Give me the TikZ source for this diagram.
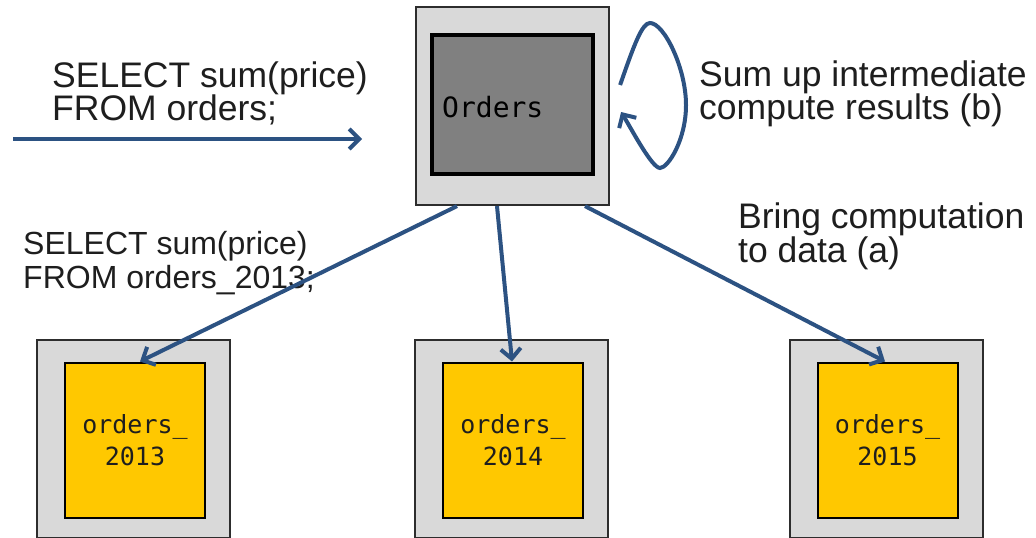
\documentclass[tikz,border=0pt]{standalone}
\usepackage{fontspec}
\setmainfont{Liberation Sans}
\newfontfamily\codefont{DejaVu Sans Mono}
\usetikzlibrary{arrows.meta,calc}
\definecolor{arrowblue}{RGB}{44,82,130}
\definecolor{boxgray}{RGB}{217,217,217}
\definecolor{darkfill}{RGB}{128,128,128}
\definecolor{yellowfill}{RGB}{255,200,0}
\definecolor{txt}{RGB}{30,30,30}
\definecolor{edge}{RGB}{45,45,45}
\begin{document}
\begin{tikzpicture}[x=1pt,y=-1pt,
  outerbox/.style={draw=edge, line width=2.2pt, fill=boxgray, minimum width=193pt, minimum height=198pt, inner sep=0pt},
  darkbox/.style={draw=black, line width=4pt, fill=darkfill, minimum width=161pt, minimum height=139pt, inner sep=0pt},
  yellowbox/.style={draw=black, line width=2pt, fill=yellowfill, minimum width=140pt, minimum height=155pt, inner sep=0pt, align=center, text=txt, font=\codefont\fontsize{25}{32}\selectfont},
  conn/.style={draw=arrowblue, line width=4pt, -{Straight Barb[length=10pt,width=20pt]}},
  bigtext/.style={font={\fontsize{35.5}{#1}\selectfont\lineskiplimit=-100pt}, text=txt, inner sep=0pt, anchor=north west, align=left},
  smalltext/.style={font={\fontsize{32}{34}\selectfont\lineskiplimit=-100pt}, text=txt, inner sep=0pt, anchor=north west, align=left},
  codelabel/.style={font=\codefont\fontsize{28}{32}\selectfont, text=black, inner sep=0pt, anchor=base west}]
\useasboundingbox (0,0) rectangle (1036,538);
% top node
\node[outerbox] (top) at (512.5,106) {};
\node[darkbox] (topin) at (512.5,104.5) {};
\node[codelabel] (toplbl) at (442,117) {Orders};
% bottom nodes
\node[outerbox] (b1) at (133.5,439) {};
\node[outerbox] (b2) at (511.5,439) {};
\node[outerbox] (b3) at (886.5,439) {};
\node[yellowbox] (y1) at (135,440) {orders\_\\2013};
\node[yellowbox] (y2) at (513,440) {orders\_\\2014};
\node[yellowbox] (y3) at (887.5,440) {orders\_\\2015};
% texts
\node[bigtext=33] (q1) at (52,62) {SELECT sum(price)\\FROM orders;};
\node[bigtext=33] (s1) at (699,60.5) {Sum up intermediate\\compute results (b)};
\node[bigtext=34] (c1) at (738,202.5) {Bring computation\\to data (a)};
\node[smalltext] (q2) at (23,231) {SELECT sum(price)\\FROM orders\_2013;};
% input arrow
\coordinate (in0) at (13,139);
\coordinate (in1) at (362,139);
\draw[conn] (in0) -- (in1);
% fan-out arrows
\draw[conn] ([xshift=-55.5pt]top.south) -- ([xshift=5pt]y1.north);
\draw[conn] ([xshift=-15.5pt]top.south) -- ([xshift=-1pt]y2.north);
\draw[conn] ([xshift=72.5pt]top.south) -- ([xshift=-2.5pt]y3.north);
% loop
\coordinate (ls) at ($(top.east)+(10,-21)$);
\coordinate (le) at ($(top.east)+(11,6)$);
\draw[conn] (ls) .. controls (634,45) and (642,23) .. (650,23)
  .. controls (664,23) and (686,68) .. (686,105)
  .. controls (686,140) and (668,168) .. (660,168)
  .. controls (652,168) and (632,130) .. (le);
\end{tikzpicture}
\end{document}
